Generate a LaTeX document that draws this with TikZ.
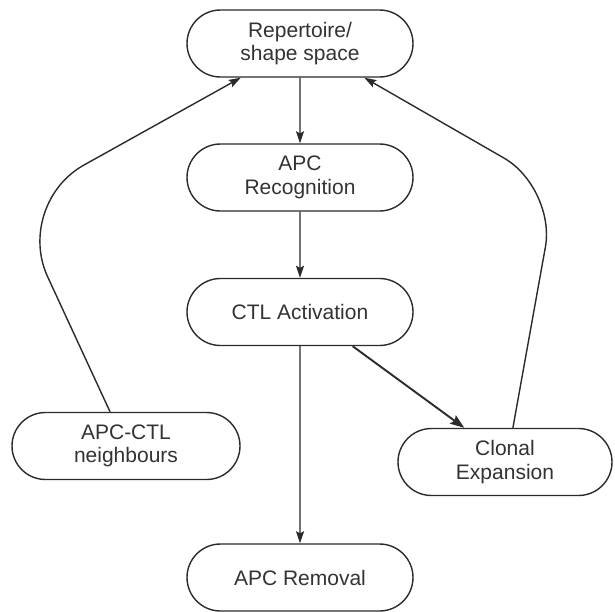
\documentclass[tikz,border=0pt]{standalone}
\usepackage{fontspec}
\setmainfont{Liberation Sans}
\usetikzlibrary{shapes.misc,arrows.meta}
\definecolor{ink}{HTML}{2B2B2B}
\definecolor{txt}{HTML}{333333}
\begin{document}
\begin{tikzpicture}[x=1pt,y=-1pt,
  stage/.style={rounded rectangle, draw=ink, line width=1.4pt, fill=white,
    minimum width=226pt, minimum height=67pt, inner sep=0pt,
    align=center, text=txt, font=\fontsize{21}{23.5}\selectfont},
  flow/.style={draw=ink, line width=1.4pt,
    -{Stealth[length=12pt,width=8pt,inset=2pt]}},
  heavy/.style={draw=ink, line width=1.9pt,
    -{Stealth[length=14pt,width=10pt,inset=2pt]}},
  loop/.style={flow, rounded corners=#1}]
  \useasboundingbox[fill=white] (0,0) rectangle (615,611);

  % process stages
  \node[stage] (rep) at (300,43.5) {Repertoire/\\shape space};
  \node[stage] (rec) at (300,177.5) {APC\\Recognition};
  \node[stage] (act) at (300,312) {CTL Activation};
  \node[stage, minimum width=228pt] (nbr) at (126,446) {APC-CTL\\neighbours};
  \node[stage, minimum width=214pt] (clo) at (505,462) {Clonal\\Expansion};
  \node[stage] (rem) at (300,577.5) {APC Removal};

  % bends of the two feedback loops
  \coordinate (bendL) at (14,204);
  \coordinate (bendR) at (556,188);

  % main chain
  \draw[flow] (rep) -- (rec);
  \draw[flow] (rec) -- (act);
  \draw[flow] (act) -- (rem);
  \draw[heavy] (act.-33) -- (clo.140);

  % feedback into the repertoire
  \draw[loop=80pt] (nbr.115) -- (bendL) -- (rep.210);
  \draw[loop=60pt] (clo.77) -- (bendR) -- (rep.-28);
\end{tikzpicture}
\end{document}
